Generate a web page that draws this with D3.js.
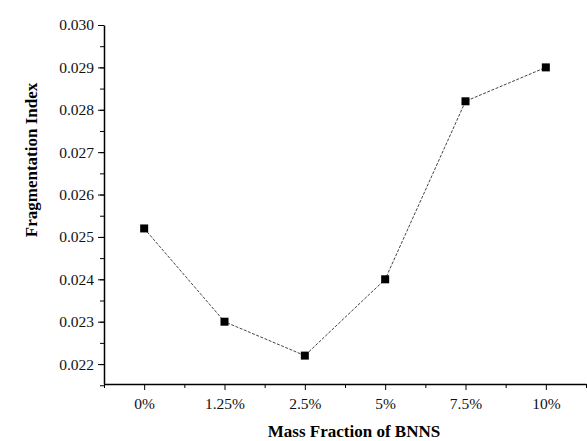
<!DOCTYPE html>
<html>
<head>
<meta charset="utf-8">
<script src="https://cdn.jsdelivr.net/npm/d3@7"></script>
<style>
  body { margin: 0; background: #fff; }
  svg { display: block; font-family: "Liberation Serif", "Times New Roman", serif; }
</style>
</head>
<body>
<div id="chart"></div>
<script>
const categories = ["0%", "1.25%", "2.5%", "5%", "7.5%", "10%"];
const values = [0.0252, 0.0230, 0.0222, 0.0240, 0.0282, 0.0290];
const yTicks = [0.022, 0.023, 0.024, 0.025, 0.026, 0.027, 0.028, 0.029, 0.030];

const W = 587, H = 441;
const plot = { left: 104, right: 586, top: 25, bottom: 384 };
const serif = "'Liberation Serif', 'Times New Roman', serif";

const svg = d3.select("#chart").append("svg")
  .attr("width", W)
  .attr("height", H);

const x = d3.scaleLinear().domain([-0.5, 5.5]).range([plot.left, plot.right]);
const y = d3.scaleLinear().domain([0.02153, 0.030]).range([plot.bottom, plot.top]);

// y axis, minor ticks then major ticks
svg.append("g")
  .attr("transform", `translate(${plot.left},0)`)
  .call(d3.axisLeft(y).tickValues(d3.range(0.0215, 0.03001, 0.0005)).tickSize(4).tickFormat(""))
  .call((g) => g.select(".domain").remove());

svg.append("g")
  .attr("transform", `translate(${plot.left},0)`)
  .call(d3.axisLeft(y).tickValues(yTicks).tickSize(6).tickPadding(4).tickFormat(d3.format(".3f")).tickSizeOuter(0))
  .attr("font-family", serif)
  .call((g) => g.selectAll("text").style("font-size", "15.5px").attr("fill", "#111"))
  .call((g) => g.select(".domain").attr("stroke-width", 1.5));

// x axis
svg.append("g")
  .attr("transform", `translate(0,${plot.bottom})`)
  .call(d3.axisBottom(x).tickValues(d3.range(-0.5, 5.6, 1)).tickSize(4).tickFormat(""))
  .call((g) => g.select(".domain").remove());

svg.append("g")
  .attr("transform", `translate(0,${plot.bottom})`)
  .call(d3.axisBottom(x).tickValues(d3.range(0, 6)).tickSize(6).tickPadding(8)
    .tickFormat((d) => categories[d]).tickSizeOuter(0))
  .attr("font-family", serif)
  .call((g) => g.selectAll("text").style("font-size", "15.5px").attr("fill", "#111"))
  .call((g) => g.select(".domain").attr("stroke-width", 1.5));

// line
const line = d3.line()
  .x((d, i) => x(i))
  .y((d) => y(d));

svg.append("path")
  .datum(values)
  .attr("d", line)
  .attr("fill", "none")
  .attr("stroke", "#444")
  .attr("stroke-width", 1)
  .attr("stroke-dasharray", "3,1.5");

svg.selectAll("rect.pt")
  .data(values)
  .enter()
  .append("rect")
  .attr("class", "pt")
  .attr("x", (d, i) => x(i) - 4)
  .attr("y", (d) => y(d) - 4)
  .attr("width", 8)
  .attr("height", 8)
  .attr("fill", "#000");

// labels
svg.append("text")
  .attr("x", 354)
  .attr("y", 437)
  .style("text-anchor", "middle")
  .style("font-size", "17px")
  .style("font-weight", "bold")
  .text("Mass Fraction of BNNS");

svg.append("text")
  .attr("transform", "rotate(-90)")
  .attr("x", -160)
  .attr("y", 37)
  .style("text-anchor", "middle")
  .style("font-size", "17px")
  .style("font-weight", "bold")
  .text("Fragmentation Index");
</script>
</body>
</html>
